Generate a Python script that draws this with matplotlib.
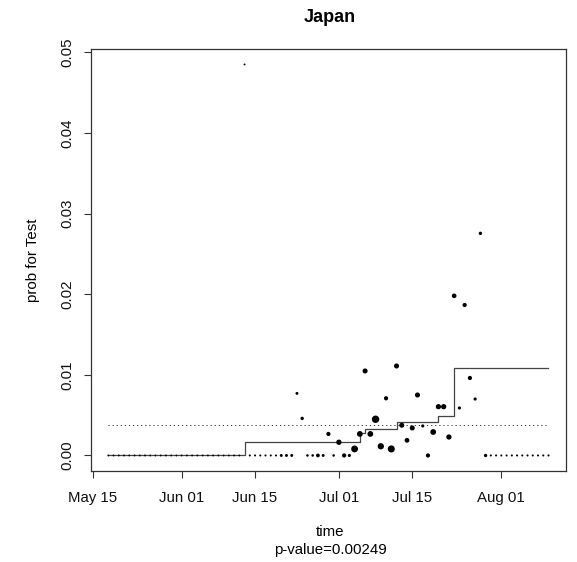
import numpy as np
import pandas as pd
import matplotlib
matplotlib.use("Agg")
import matplotlib.pyplot as plt
import matplotlib.dates as mdates

plt.rcParams['font.family'] = ['Liberation Sans', 'DejaVu Sans']

# daily share of positive tests, 2020-05-18 .. 2020-08-10
dates = pd.date_range("2020-05-18", "2020-08-10", freq="D")
prob = [0.0] * 26 + [0.0485] + [0.0] * 9 + [
    0.0077, 0.0046, 0.0, 0.0, 0.0, 0.0, 0.00267, 0.0, 0.00164, 0.0, 0.0,
    0.00081, 0.00267, 0.01048, 0.00267, 0.00449, 0.00114, 0.00709, 0.00081,
    0.0111, 0.00375, 0.00188, 0.00341, 0.0075, 0.00366, 0.0, 0.00291,
    0.00605, 0.00605, 0.00229, 0.0198, 0.00589, 0.01866, 0.00961, 0.0070,
    0.02755] + [0.0] * 13
n_tests = [5] * 26 + [5] + [6] * 6 + [12] * 3 + [
    12, 16, 9, 9, 20, 12, 25, 9, 40, 25, 14,
    66, 47, 36, 47, 77, 56, 25, 70,
    36, 36, 32, 36, 36, 14, 25, 47,
    39, 39, 39, 30, 14, 25, 25, 14,
    16] + [16] + [6] * 12

# fitted step estimate and threshold
step_dates = pd.to_datetime(["2020-05-18", "2020-06-13", "2020-07-05", "2020-07-06",
                             "2020-07-12", "2020-07-20", "2020-07-23", "2020-08-10"])
step_levels = [0.0, 0.00164, 0.00275, 0.00329, 0.00419, 0.00494, 0.01081, 0.01081]
threshold = 0.00375

yticks = [0.00, 0.01, 0.02, 0.03, 0.04, 0.05]
ytick_labels = ["0.00", "0.01", "0.02", "0.03", "0.04", "0.05"]
xticks = pd.to_datetime(["2020-05-15", "2020-06-01", "2020-06-15",
                         "2020-07-01", "2020-07-15", "2020-08-01"])
xtick_labels = ["May 15", "Jun 01", "Jun 15", "Jul 01", "Jul 15", "Aug 01"]

W, H = 577, 562
fig = plt.figure(figsize=(W / 100, H / 100), dpi=100)
L, R, T, B = 90.7, 566.1, 48.8, 471.1
ax = fig.add_axes([L / W, 1 - B / H, (R - L) / W, (B - T) / H])

x0 = mdates.date2num(pd.Timestamp("2020-05-15"))
ax.set_xlim(x0 - 0.36, x0 + 90.36)
ax.set_ylim(-0.00194, 0.05044)

sizes = 0.37 * np.array(n_tests, dtype=float)
ax.scatter(dates, prob, s=sizes, color="black", linewidths=0, zorder=3)
ax.step(step_dates, step_levels, where="post", color="#444444", lw=0.9, zorder=2)
ax.plot([dates[0], dates[-1]], [threshold, threshold], color="#333333",
        lw=0.7, linestyle=(0, (1.2, 3.0)), zorder=1)

for sp in ax.spines.values():
    sp.set_color("#333333")
    sp.set_linewidth(0.9)

ax.set_xticks(mdates.date2num(xticks))
ax.set_xticklabels(xtick_labels)
ax.set_yticks(yticks)
ax.set_yticklabels(ytick_labels, rotation=90, va="center")
ax.tick_params(axis="both", length=5, width=0.8, color="#333333",
               labelsize=10.8, labelcolor="#111111")
ax.tick_params(axis="x", pad=9)
ax.tick_params(axis="y", pad=7)

fig.text(330 / W, 1 - 18 / H, "Japan", ha="center", va="center",
         fontsize=13, fontweight="bold")
fig.text(330 / W, 1 - 532 / H, "time", ha="center", va="center", fontsize=10.8)
fig.text(330 / W, 1 - 550 / H, "p-value=0.00249", ha="center", va="center",
         fontsize=10.8)
fig.text(33 / W, 1 - 260 / H, "prob for Test", ha="center", va="center",
         rotation=90, fontsize=10.8)

fig.savefig("out.png", dpi=100)
